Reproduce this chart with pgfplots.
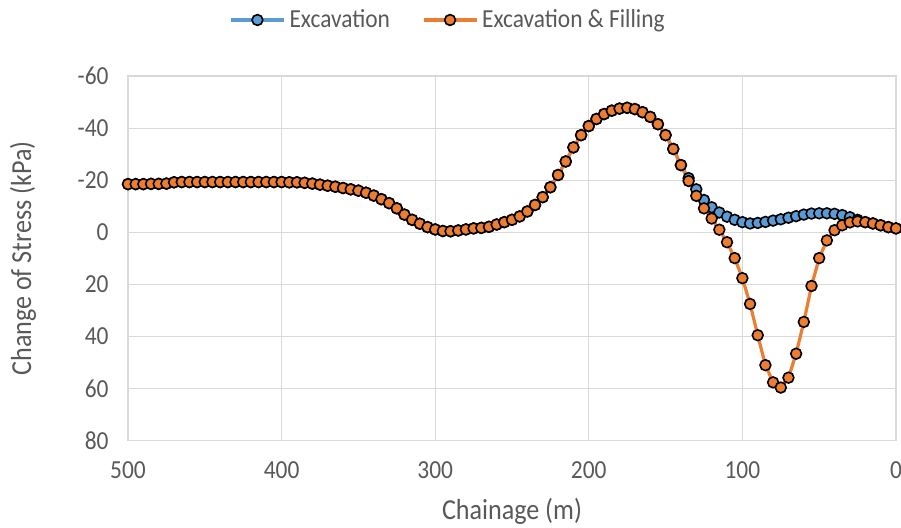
\documentclass[border=0pt]{standalone}
\usepackage{pgfplots}
\pgfplotsset{compat=1.18}
\usepackage{pgfplotstable}
\usepackage{fontspec}
\setmainfont{Carlito}[FakeStretch=0.9]
\definecolor{exblue}{HTML}{5B9BD5}
\definecolor{exorange}{HTML}{ED7D31}
\definecolor{txtgray}{HTML}{595959}
\definecolor{gridgray}{HTML}{D9D9D9}
\pgfplotstableread{
x exc ef
500 -18.5 -18.5
495 -18.5 -18.5
490 -18.5 -18.5
485 -18.6 -18.6
480 -18.6 -18.6
475 -18.7 -18.7
470 -19.2 -19.2
465 -19.3 -19.3
460 -19.3 -19.3
455 -19.3 -19.3
450 -19.3 -19.3
445 -19.3 -19.3
440 -19.3 -19.3
435 -19.3 -19.3
430 -19.3 -19.3
425 -19.3 -19.3
420 -19.3 -19.3
415 -19.3 -19.3
410 -19.3 -19.3
405 -19.3 -19.3
400 -19.3 -19.3
395 -19.2 -19.2
390 -19.2 -19.2
385 -19.0 -19.0
380 -18.7 -18.7
375 -18.3 -18.3
370 -17.9 -17.9
365 -17.5 -17.5
360 -17.0 -17.0
355 -16.5 -16.5
350 -16.0 -16.0
345 -15.2 -15.2
340 -14.1 -14.1
335 -12.7 -12.7
330 -11.2 -11.2
325 -9.2 -9.2
320 -6.8 -6.8
315 -4.8 -4.8
310 -3.3 -3.3
305 -2.0 -2.0
300 -1.1 -1.1
295 -0.5 -0.5
290 -0.4 -0.4
285 -0.7 -0.7
280 -1.1 -1.1
275 -1.5 -1.5
270 -1.7 -1.7
265 -2.1 -2.1
260 -3.0 -3.0
255 -3.9 -3.9
250 -4.8 -4.8
245 -6.1 -6.1
240 -8.0 -8.0
235 -10.5 -10.5
230 -13.5 -13.5
225 -17.3 -17.3
220 -22.0 -22.0
215 -27.2 -27.2
210 -32.6 -32.6
205 -37.3 -37.3
200 -40.8 -40.8
195 -43.5 -43.5
190 -45.4 -45.4
185 -46.7 -46.7
180 -47.5 -47.5
175 -47.8 -47.8
170 -47.3 -47.3
165 -46.1 -46.1
160 -44.3 -44.3
155 -41.5 -41.5
150 -37.3 -37.3
145 -32.0 -32.0
140 -25.8 -25.8
135 -20.8 -19.7
130 -16.5 -14.0
125 -12.4 -9.2
120 -9.6 -5.3
115 -7.6 -1.0
110 -6.0 3.8
105 -4.8 9.9
100 -3.9 17.6
95 -3.4 27.5
90 -3.6 39.5
85 -4.0 51.0
80 -4.5 57.6
75 -5.0 59.6
70 -5.6 55.8
65 -6.2 46.6
60 -6.8 34.4
55 -7.2 20.6
50 -7.3 9.9
45 -7.3 3.1
40 -7.1 -0.8
35 -6.6 -2.7
30 -5.8 -3.8
25 -4.8 -4.2
20 -3.9 -3.9
15 -3.4 -3.4
10 -2.7 -2.7
5 -2.0 -2.0
0 -1.5 -1.5
}\datatable
\begin{document}
\begin{tikzpicture}
\path[use as bounding box] (-64pt,-43.15pt) rectangle (386.5pt,220.35pt);
\begin{axis}[
  scale only axis,
  width=384pt, height=182.35pt,
  x dir=reverse, y dir=reverse,
  xmin=0, xmax=500, ymin=-60, ymax=80,
  xtick={0,100,200,300,400,500},
  ytick={-60,-40,-20,0,20,40,60,80},
  yticklabels={-60,-40,-20,0,20,40,60,80},
  xticklabels={0,100,200,300,400,500},
  major tick length=0pt,
  grid=major,
  major grid style={gridgray, line width=0.6pt},
  axis line style={gridgray, line width=0.6pt},
  tick label style={font=\fontsize{13}{15}\selectfont, text=txtgray},
  xticklabel style={yshift=-7pt},
  yticklabel style={xshift=-6.2pt},
  xlabel={Chainage (m)},
  ylabel={Change of Stress (kPa)},
  label style={font=\fontsize{14.5}{17}\selectfont, text=txtgray},
  xlabel style={at={(axis description cs:0.5,-0.195)}, anchor=center},
  ylabel style={at={(axis description cs:-0.1367,0.5)}, anchor=center},
  legend columns=2,
  legend style={draw=none, fill=none, at={(0.418,1.1536)}, anchor=center,
    font=\fontsize{13}{15}\selectfont, text=txtgray,
    /tikz/every even column/.append style={column sep=14pt}},
  legend image code/.code={\draw[mark repeat=2,mark phase=2] plot coordinates {(0pt,0pt) (13.25pt,0pt) (26.5pt,0pt)};},
  clip=false,
]
\addplot[exblue, line width=1.6pt, mark=*, mark size=2.7pt,
  mark options={fill=exblue, draw=black, line width=0.8pt}] table[x=x, y=exc] {\datatable};
\addlegendentry{Excavation}
\addplot[exorange, line width=1.6pt, mark=*, mark size=2.7pt,
  mark options={fill=exorange, draw=black, line width=0.8pt}] table[x=x, y=ef] {\datatable};
\addlegendentry{Excavation \& Filling}
\end{axis}
\end{tikzpicture}
\end{document}
